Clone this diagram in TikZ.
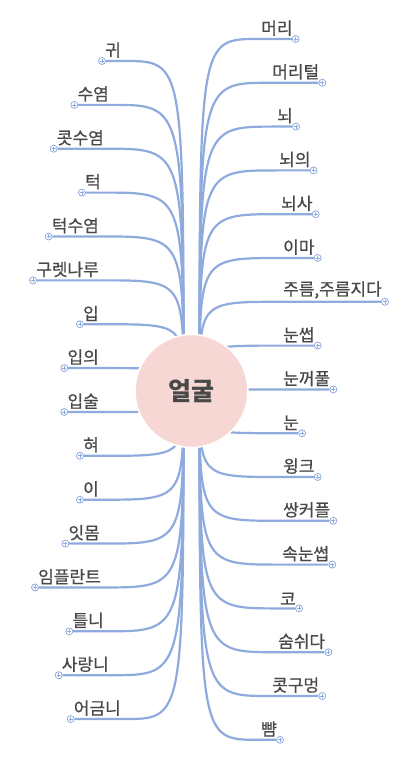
\documentclass[tikz,border=0pt]{standalone}
\usepackage{fontspec}
\setmainfont{Noto Sans CJK KR}
\newfontfamily\krlabel{Noto Sans CJK KR}[FakeBold=0.7]
\usetikzlibrary{calc,backgrounds}
\definecolor{branchblue}{RGB}{143,171,222}
\definecolor{facepink}{RGB}{246,215,211}
\definecolor{labelgray}{RGB}{72,72,72}

\begin{document}
\begin{tikzpicture}[x=1pt, y=-1pt,
  branch/.style={draw=branchblue, line width=2.2pt},
  lbl/.style={font=\krlabel\fontsize{17}{20}\selectfont, text=labelgray, inner sep=0pt},
  knob/.style={circle, draw=branchblue, fill=white, line width=0.8pt, minimum size=7pt, inner sep=0pt,
    path picture={\draw[branchblue, line width=0.7pt]
      ([xshift=-2pt]path picture bounding box.center) -- ([xshift=2pt]path picture bounding box.center)
      ([yshift=-2pt]path picture bounding box.center) -- ([yshift=2pt]path picture bounding box.center);}},
  hub/.style={circle, fill=facepink, draw=white, line width=1.5pt, minimum size=113pt,
    font=\bfseries\fontsize{25}{28}\selectfont, text=labelgray}]
  \useasboundingbox (0,0) rectangle (419,762);

  % centre
  \node[hub] (face) at (191.5,391) {얼굴};
  \coordinate (lroot) at ([xshift=-8pt]face.center);
  \coordinate (rroot) at ([xshift=8pt]face.center);

  % left branches
  \foreach \txt/\ix [count=\i] in {귀/124, 수염/112, 콧수염/107, 턱/104, 턱수염/102, 구렛나루/102,
      입/102, 입의/102, 입술/102, 혀/102, 이/102, 잇몸/103, 임플란트/104, 틀니/107, 사랑니/112, 어금니/124} {
    \pgfmathsetmacro\yy{61+43.87*(\i-1)}
    \coordinate (li\i) at (\ix,\yy);
    \node[lbl, anchor=south east] (lt\i) at ($(li\i)+(-3,-3)$) {\txt};
    \node[knob] (lk\i) at ($(lt\i.south west |- li\i)+(-3,0)$) {};
    \begin{scope}[on background layer]
      \draw[branch] (lroot) .. controls (lroot |- li\i) .. (li\i) -- (lk\i);
    \end{scope}
  }

  % right branches
  \foreach \txt/\ix [count=\i] in {머리/258, 머리털/269, 뇌/274, 뇌의/276, 뇌사/278, 이마/280,
      {주름,주름지다}/280, 눈썹/280, 눈꺼풀/280, 눈/280, 윙크/280, 쌍커플/280, 속눈썹/279,
      코/277, 숨쉬다/275, 콧구멍/269, 뺨/258} {
    \pgfmathsetmacro\yy{39+43.8*(\i-1)}
    \coordinate (ri\i) at (\ix,\yy);
    \node[lbl, anchor=south west] (rt\i) at ($(ri\i)+(3,-3)$) {\txt};
    \node[knob] (rk\i) at ($(rt\i.south east |- ri\i)+(3,0)$) {};
    \begin{scope}[on background layer]
      \draw[branch] (rroot) .. controls (rroot |- ri\i) .. (ri\i) -- (rk\i);
    \end{scope}
  }
\end{tikzpicture}
\end{document}
